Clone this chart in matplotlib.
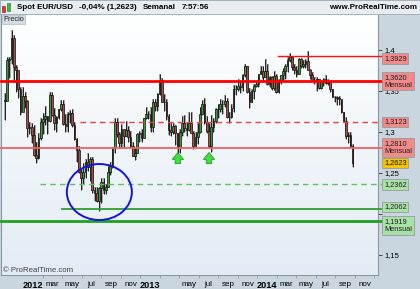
import pandas as pd
import numpy as np
import matplotlib
matplotlib.use('Agg')
import matplotlib.pyplot as plt
import matplotlib.dates as mdates
from matplotlib.patches import Ellipse, Rectangle
from matplotlib.colors import LinearSegmentedColormap

plt.rcParams['font.family'] = ['Liberation Sans', 'DejaVu Sans']

# weekly EUR/USD candles, first week starting 2011-10-03
first_week = '2011-10-03'
first_open = 1.3390
closes = [
    # 2011 oct - dec
    1.3380, 1.3880, 1.3895, 1.4150, 1.3790, 1.3750, 1.3525, 1.3240, 1.3445, 1.3380, 1.3045, 1.3060, 1.2960,
    # 2012
    1.2720, 1.2680, 1.2930, 1.3125, 1.3155, 1.3195, 1.3135, 1.3450, 1.3205, 1.3115, 1.3180, 1.3275, 1.3345,
    1.3095, 1.3075, 1.3225, 1.3235, 1.3080, 1.2915, 1.2780, 1.2515, 1.2435, 1.2515, 1.2640, 1.2570, 1.2665,
    1.2290, 1.2250, 1.2160, 1.2320, 1.2390, 1.2290, 1.2335, 1.2515, 1.2580, 1.2815, 1.3125, 1.2980, 1.2860,
    1.3040, 1.2950, 1.3020, 1.2940, 1.2830, 1.2710, 1.2745, 1.2975, 1.2985, 1.2925, 1.3165, 1.3215, 1.3215,
    1.3065,
    # 2013
    1.3360, 1.3315, 1.3460, 1.3640, 1.3365, 1.3365, 1.3190, 1.3020, 1.3005, 1.3075, 1.2985, 1.2815,
    1.2995, 1.3110, 1.3050, 1.3030, 1.3115, 1.2990, 1.2835, 1.2935, 1.3005, 1.3220, 1.3345, 1.3120, 1.3010,
    1.2830, 1.3065, 1.3140, 1.3280, 1.3280, 1.3345, 1.3340, 1.3380, 1.3180, 1.3185, 1.3295, 1.3525, 1.3520,
    1.3555, 1.3550, 1.3690, 1.3800, 1.3485, 1.3365, 1.3495, 1.3555, 1.3590, 1.3705, 1.3740, 1.3675, 1.3745,
    1.3590,
    # 2014
    1.3665, 1.3540, 1.3680, 1.3485, 1.3635, 1.3690, 1.3740, 1.3805, 1.3875, 1.3910, 1.3790, 1.3750, 1.3705,
    1.3885, 1.3810, 1.3830, 1.3870, 1.3755, 1.3695, 1.3630, 1.3635, 1.3645, 1.3540, 1.3610, 1.3645, 1.3595,
    1.3605, 1.3525, 1.3430, 1.3425, 1.3410, 1.3400, 1.3240, 1.3130, 1.2950, 1.2965, 1.2835, 1.2623,
]
highs = [
    1.3470, 1.3915, 1.3910, 1.4247, 1.4180, 1.3815, 1.3620, 1.3550, 1.3550, 1.3485, 1.3390, 1.3120, 1.3115,
    1.3080, 1.2880, 1.2990, 1.3175, 1.3235, 1.3320, 1.3195, 1.3485, 1.3490, 1.3290, 1.3195, 1.3285, 1.3385,
    1.3385, 1.3215, 1.3240, 1.3265, 1.3285, 1.3125, 1.2930, 1.2825, 1.2545, 1.2625, 1.2670, 1.2745, 1.2695,
    1.2690, 1.2335, 1.2325, 1.2325, 1.2440, 1.2445, 1.2365, 1.2585, 1.2635, 1.2815, 1.3170, 1.3170, 1.3000,
    1.3095, 1.3000, 1.3140, 1.3070, 1.3010, 1.2880, 1.2805, 1.2985, 1.3010, 1.3040, 1.3175, 1.3310, 1.3255,
    1.3300,
    1.3405, 1.3405, 1.3480, 1.3710, 1.3660, 1.3465, 1.3400, 1.3220, 1.3115, 1.3110, 1.3080, 1.2985,
    1.3035, 1.3200, 1.3205, 1.3120, 1.3240, 1.3245, 1.3010, 1.2995, 1.3110, 1.3305, 1.3390, 1.3415, 1.3200,
    1.3110, 1.3205, 1.3175, 1.3295, 1.3345, 1.3400, 1.3395, 1.3450, 1.3415, 1.3250, 1.3340, 1.3570, 1.3570,
    1.3645, 1.3610, 1.3705, 1.3832, 1.3810, 1.3540, 1.3525, 1.3580, 1.3620, 1.3710, 1.3810, 1.3810, 1.3893,
    1.3830,
    1.3685, 1.3685, 1.3740, 1.3710, 1.3645, 1.3700, 1.3775, 1.3825, 1.3915, 1.3967, 1.3930, 1.3830, 1.3810,
    1.3905, 1.3905, 1.3875, 1.3890, 1.3993, 1.3770, 1.3735, 1.3670, 1.3670, 1.3650, 1.3615, 1.3660, 1.3700,
    1.3650, 1.3620, 1.3530, 1.3445, 1.3435, 1.3435, 1.3390, 1.3250, 1.3180, 1.2995, 1.3000, 1.2855,
]
lows = [
    1.3145, 1.3400, 1.3655, 1.3825, 1.3610, 1.3485, 1.3420, 1.3210, 1.3260, 1.3290, 1.2945, 1.2975, 1.2860,
    1.2710, 1.2624, 1.2665, 1.2905, 1.2975, 1.3085, 1.2975, 1.3125, 1.3195, 1.3025, 1.3005, 1.3160, 1.3260,
    1.3090, 1.3005, 1.3005, 1.3110, 1.3065, 1.2905, 1.2640, 1.2495, 1.2288, 1.2365, 1.2445, 1.2520, 1.2405,
    1.2255, 1.2160, 1.2145, 1.2042, 1.2135, 1.2240, 1.2240, 1.2335, 1.2475, 1.2560, 1.2745, 1.2935, 1.2800,
    1.2800, 1.2800, 1.2950, 1.2880, 1.2800, 1.2710, 1.2660, 1.2745, 1.2880, 1.2875, 1.2925, 1.3155, 1.3160,
    1.3000,
    1.3000, 1.3260, 1.3255, 1.3450, 1.3360, 1.3260, 1.3145, 1.2965, 1.2955, 1.2970, 1.2845, 1.2750,
    1.2745, 1.2950, 1.2995, 1.2955, 1.3015, 1.2995, 1.2795, 1.2825, 1.2855, 1.2985, 1.3205, 1.3100, 1.2990,
    1.2805, 1.2755, 1.3005, 1.3110, 1.3170, 1.3240, 1.3215, 1.3310, 1.3175, 1.3105, 1.3165, 1.3250, 1.3450,
    1.3500, 1.3480, 1.3495, 1.3665, 1.3480, 1.3295, 1.3365, 1.3400, 1.3545, 1.3545, 1.3705, 1.3625, 1.3665,
    1.3575,
    1.3550, 1.3510, 1.3510, 1.3475, 1.3475, 1.3590, 1.3640, 1.3645, 1.3735, 1.3855, 1.3750, 1.3705, 1.3675,
    1.3705, 1.3780, 1.3775, 1.3775, 1.3750, 1.3645, 1.3615, 1.3585, 1.3503, 1.3525, 1.3525, 1.3560, 1.3590,
    1.3575, 1.3490, 1.3425, 1.3365, 1.3335, 1.3330, 1.3235, 1.3130, 1.2920, 1.2860, 1.2815, 1.2570,
]

# support / resistance levels
level_values = [1.3929, 1.3620, 1.3123, 1.2810, 1.2362, 1.2062, 1.1919]
level_starts = ['2014-02-03', None, '2012-05-27', None, '2012-01-23', '2012-03-31', None]
level_tags = ['', 'Mensual', '', 'Mensual', '', '', 'Mensual']
level_kind = ['r', 'r', 'r', 'r', 'g', 'g', 'g']
level_style = [('#ff1010', 1.0, '-'), ('#ff0000', 2.0, '-'), ('#f04040', 1.0, (0, (4, 3))),
               ('#f06060', 1.3, '-'), ('#60c060', 1.0, (0, (4, 3))), ('#30a030', 1.3, '-'),
               ('#20a020', 2.0, '-')]
label_shift = [-3, 0, 0, 0, 0, 2, -5]
last_price = 1.2623

arrow_dates = ['2013-03-28', '2013-07-03']
arrow_bottom = 1.2615
arrow_top = 1.2750

circle_center = ('2012-07-26', 1.2268)
circle_w_days = 203
circle_h = 0.0683

y_ticks = [1.15, 1.2, 1.25, 1.3, 1.35, 1.4]
y_tick_labels = ['1,15', '', '1,25', '1,3', '1,35', '1,4']  # 1,2 sits under the level boxes
x_labels = ['2012', 'mar', 'may', 'jul', 'sep', 'nov', '2013', 'may', 'jul', 'sep', 'nov',
            '2014', 'mar', 'may', 'jul', 'sep', 'nov']
x_label_dates = ['2012-01-01', '2012-03-01', '2012-05-01', '2012-07-01', '2012-09-01', '2012-11-01',
                 '2013-01-01', '2013-05-01', '2013-07-01', '2013-09-01', '2013-11-01',
                 '2014-01-01', '2014-03-01', '2014-05-01', '2014-07-01', '2014-09-01', '2014-11-01']

W, H = 420, 289
panel = '#c9d6df'
fig = plt.figure(figsize=(W / 100, H / 100), dpi=100, facecolor=panel)


def fx(px):
    return px / W


def fy(py):
    return 1 - py / H


# title bar
fig.patches.append(Rectangle((0, fy(14)), 1, 14 / H, transform=fig.transFigure,
                             fc='#e9edf1', ec='#9aa8b2', lw=0.6, zorder=0))
fig.patches.append(Rectangle((fx(2), fy(12)), 3 / W, 6 / H, transform=fig.transFigure, fc='#e03030', ec='#802020', lw=0.4))
fig.patches.append(Rectangle((fx(7), fy(11)), 3 / W, 8 / H, transform=fig.transFigure, fc='#30c030', ec='#207020', lw=0.4))
fs_t = 5.8
fig.text(fx(17), fy(7.3), 'Spot EUR/USD', fontsize=fs_t, fontweight='bold', va='center')
fig.text(fx(79), fy(7.3), '-0,04% (1,2623)', fontsize=fs_t, fontweight='bold', va='center')
fig.text(fx(143), fy(7.3), 'Semanal', fontsize=fs_t, fontweight='bold', va='center')
fig.text(fx(182), fy(7.3), '7:57:56', fontsize=fs_t, fontweight='bold', va='center')
fig.text(fx(417), fy(7.3), 'www.ProRealTime.com', fontsize=fs_t, fontweight='bold', va='center', ha='right')

ax = fig.add_axes([fx(1), fy(275), 377 / W, 261 / H])
base = mdates.date2num(pd.Timestamp('2012-01-01'))
day_per_px = 365 / 117
xmin = base + (1 - 33) * day_per_px
xmax = base + (378 - 33) * day_per_px
ymax = 1.3 + (132 - 14) / 820
ymin = 1.3 - (275 - 132) / 820
ax.set_xlim(xmin, xmax)
ax.set_ylim(ymin, ymax)

# background gradient
grad = np.linspace(1, 0, 100).reshape(-1, 1)
cmap = LinearSegmentedColormap.from_list('bg', ['#e3ecf4', '#ffffff'])
ax.imshow(grad, extent=[xmin, xmax, ymin, ymax], aspect='auto', cmap=cmap, zorder=0)

# candles
dates = pd.date_range(first_week, periods=len(closes), freq='7D')
x = mdates.date2num(dates) + 2
opens = [first_open] + closes[:-1]
o = np.array(opens)
c = np.array(closes)
ax.vlines(x + 1.8, lows, highs, color='#a8a8a8', lw=1.4, zorder=2)
ax.vlines(x, lows, highs, color='#202020', lw=0.7, zorder=3)
cols = ['#3a9d3a' if cc >= oo else '#b04a4a' for oo, cc in zip(o, c)]
ax.bar(x, np.abs(c - o), bottom=np.minimum(o, c), width=5.2, color=cols,
       edgecolor='#101010', linewidth=0.5, zorder=4)

# level lines and right labels
for v, st, tag, kind, sty, sh in zip(level_values, level_starts, level_tags, level_kind,
                                     level_style, label_shift):
    x0 = xmin if st is None else mdates.date2num(pd.Timestamp(st))
    ax.plot([x0, xmax + 12], [v, v], color=sty[0], lw=sty[1], linestyle=sty[2],
            clip_on=False, zorder=5)
    txt = f'{v:.4f}'.replace('.', ',')
    if tag:
        txt += '\n' + tag
    fc = '#f28a8a' if kind == 'r' else '#a6e2a6'
    ax.annotate(txt, xy=(1, v), xycoords=('axes fraction', 'data'), xytext=(6, sh),
                textcoords='offset pixels', va='center', ha='left', fontsize=5.3,
                linespacing=1.15, color='#202020', zorder=10, annotation_clip=False,
                bbox=dict(boxstyle='square,pad=0.25', fc=fc, ec='#9a9a9a', lw=0.6))

ax.annotate(f'{last_price:.4f}'.replace('.', ','), xy=(1, last_price), xycoords=('axes fraction', 'data'),
            xytext=(6, 0), textcoords='offset pixels', va='center', ha='left', fontsize=5.3,
            color='#101010', zorder=10, annotation_clip=False,
            bbox=dict(boxstyle='square,pad=0.25', fc='#f5c400', ec='#9a9a9a', lw=0.6))

# blue circle
ell = Ellipse((mdates.date2num(pd.Timestamp(circle_center[0])), circle_center[1]),
              width=circle_w_days, height=circle_h, fill=False, ec='#1414dc', lw=1.4, zorder=6)
ax.add_patch(ell)

# green arrows
for d in arrow_dates:
    xd = mdates.date2num(pd.Timestamp(d))
    ax.annotate('', xy=(xd, arrow_top), xytext=(xd, arrow_bottom),
                arrowprops=dict(arrowstyle='simple,head_width=0.9,head_length=0.55,tail_width=0.45',
                                fc='#40e040', ec='#1a8a1a', lw=0.5, mutation_scale=9,
                                shrinkA=0, shrinkB=0), zorder=7)

# axes styling
ax.spines['top'].set_visible(False)
for s in ['left', 'right', 'bottom']:
    ax.spines[s].set_color('#8a98a2')
    ax.spines[s].set_linewidth(0.8)

ax.yaxis.tick_right()
ax.set_yticks(y_ticks)
ax.set_yticklabels(y_tick_labels)
ax.tick_params(axis='y', length=3, width=0.6, pad=1.5, labelsize=5.5, color='#303030')

xl = [mdates.date2num(pd.Timestamp(d)) for d in x_label_dates]
ax.set_xticks(xl)
ax.set_xticklabels(x_labels)
ax.tick_params(axis='x', length=0, pad=4)
for lab in ax.get_xticklabels():
    if lab.get_text().isdigit():
        lab.set_fontweight('bold')
        lab.set_fontsize(6.6)
    else:
        lab.set_fontsize(5.8)
minor = [mdates.date2num(pd.Timestamp(f'{y}-{m:02d}-01')) for y in (2012, 2013, 2014) for m in (2, 4, 6, 8, 10, 12)]
ax.set_xticks(minor, minor=True)
ax.tick_params(axis='x', which='minor', length=2.5, width=0.6, color='#8a98a2')

# Precio tag and copyright
fig.text(fx(3), fy(19.5), 'Precio', fontsize=5.3, va='center', ha='left', color='#202020',
         bbox=dict(boxstyle='square,pad=0.2', fc='#d4dbe2', ec='#b0b8c0', lw=0.5))
fig.text(fx(3), fy(270.5), '© ProRealTime.com', fontsize=5.6, va='center', ha='left', color='#404040')

fig.savefig('out.png', dpi=100, facecolor=panel)
